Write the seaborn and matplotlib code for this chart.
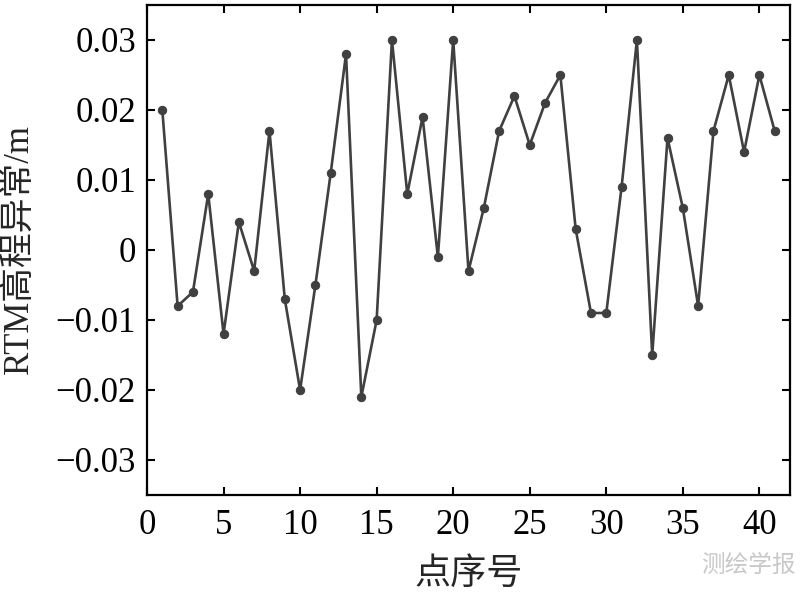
import matplotlib
matplotlib.use("Agg")
import matplotlib.pyplot as plt
import seaborn as sns
import pandas as pd

point_index = list(range(1, 42))
rtm_anomaly = [0.020, -0.008, -0.006, 0.008, -0.012, 0.004, -0.003, 0.017, -0.007, -0.020,
               -0.005, 0.011, 0.028, -0.021, -0.010, 0.030, 0.008, 0.019, -0.001, 0.030,
               -0.003, 0.006, 0.017, 0.022, 0.015, 0.021, 0.025, 0.003, -0.009, -0.009,
               0.009, 0.030, -0.015, 0.016, 0.006, -0.008, 0.017, 0.025, 0.014, 0.025,
               0.017]
xtick_values = [0, 5, 10, 15, 20, 25, 30, 35, 40]
ytick_values = [-0.03, -0.02, -0.01, 0, 0.01, 0.02, 0.03]
ytick_labels = ["\u22120.03", "\u22120.02", "\u22120.01", "0", "0.01", "0.02", "0.03"]

sns.set_style("ticks")
plt.rcParams['font.family'] = ['Liberation Serif', 'Noto Sans CJK SC', 'DejaVu Sans']

df = pd.DataFrame({"idx": point_index, "val": rtm_anomaly})

fig = plt.figure(figsize=(8, 5.92), dpi=100)
ax = fig.add_axes([147/800, 97/592, (790-147)/800, (495-5)/592])
line_color = "#404040"
sns.lineplot(data=df, x="idx", y="val", ax=ax, color=line_color, linewidth=1.9,
             marker="o", markersize=6, markeredgecolor=line_color, markerfacecolor=line_color)

ax.set_xlim(0, 42)
ax.set_ylim(-0.035, 0.035)
ax.set_xticks(xtick_values)
ax.set_xticklabels([str(v) for v in xtick_values])
ax.set_yticks(ytick_values)
ax.set_yticklabels(ytick_labels)
ax.tick_params(direction="in", length=6, width=1.5, top=True, right=True,
               labelsize=25, colors="black", pad=8)
ax.tick_params(axis="x", pad=10)
for s in ax.spines.values():
    s.set_visible(True)
    s.set_linewidth(1.6)
    s.set_color("black")

ax.set_xlabel("点序号", fontsize=26, family=['Noto Sans CJK SC', 'DejaVu Sans'], labelpad=10)
ax.set_ylabel("RTM高程异常/m", fontsize=25, family=['Liberation Serif', 'Noto Sans CJK SC'], labelpad=14)

fig.text(0.995, 0.045, "测绘学报", ha="right", va="center", fontsize=17,
         color="#c8c8c8", family=['Noto Sans CJK SC'])

fig.savefig("out.png", dpi=100)
